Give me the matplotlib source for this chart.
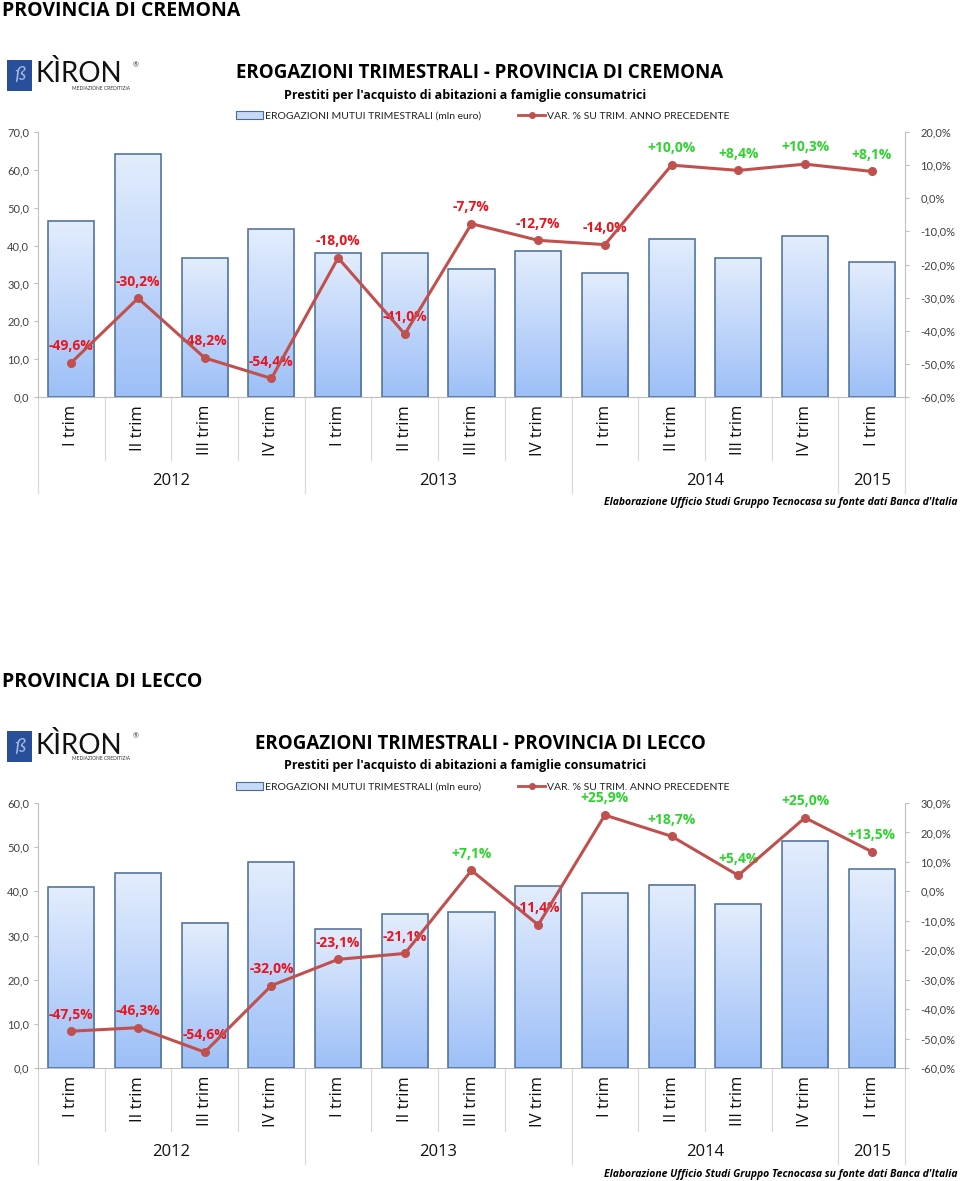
import numpy as np
import matplotlib.pyplot as plt
from matplotlib.patches import Rectangle
from matplotlib.lines import Line2D
from matplotlib.colors import LinearSegmentedColormap
import matplotlib.transforms as mtransforms

plt.rcParams['font.family'] = ['Lato', 'DejaVu Sans']

quarters = ["I trim", "II trim", "III trim", "IV trim",
            "I trim", "II trim", "III trim", "IV trim",
            "I trim", "II trim", "III trim", "IV trim",
            "I trim"]
years = ["2012", "2013", "2014", "2015"]
year_sizes = [4, 4, 4, 1]

cremona_bars = [46.5, 64.3, 36.7, 44.3, 38.1, 38.0, 33.9, 38.6, 32.7, 41.8, 36.7, 42.5, 35.6]
cremona_pct = [-49.6, -30.2, -48.2, -54.4, -18.0, -41.0, -7.7, -12.7, -14.0, 10.0, 8.4, 10.3, 8.1]

lecco_bars = [41.0, 44.2, 32.9, 46.7, 31.4, 34.9, 35.3, 41.2, 39.6, 41.5, 37.1, 51.5, 45.0]
lecco_pct = [-47.5, -46.3, -54.6, -32.0, -23.1, -21.1, 7.1, -11.4, 25.9, 18.7, 5.4, 25.0, 13.5]

LINE = "#c0504d"
EDGE = "#4a6d96"
NEG = "#e8141e"
POS = "#2ed42e"
GRID = "#bfbfbf"
TICK = "#404040"

grad = LinearSegmentedColormap.from_list("bar", ["#9dbff7", "#e3edfd"])


def fmt_it(v, pct=False):
    s = f"{v:.1f}".replace(".", ",")
    return s + ("%" if pct else "")


def panel(fig, header_y, ax_bottom, place, bars, pct, ymax, pmin, pmax):
    H = 1181.0
    fy = lambda px: 1 - px / H

    # page header
    fig.text(0.002, fy(header_y), "PROVINCIA DI " + place, fontsize=14, fontweight="bold",
             va="center", ha="left", family=["Open Sans", "DejaVu Sans"])

    # logo
    top = header_y + 48
    fig.patches.append(Rectangle((7 / 960, fy(top + 32)), 25 / 960, 31 / H,
                                 transform=fig.transFigure, facecolor="#2a4f9a",
                                 edgecolor="none"))
    fig.text(19.5 / 960, fy(top + 16), "ß", color="#9fb6e0", fontsize=14,
             ha="center", va="center", style="italic")
    fig.text(35 / 960, fy(top + 15), "KÌRON", fontsize=20, ha="left", va="center",
             color="#111111")
    fig.text(133 / 960, fy(top + 6), "®", fontsize=5, ha="left", va="center", color="#333333")
    fig.text(72 / 960, fy(top + 29), "MEDIAZIONE CREDITIZIA", fontsize=3.5,
             ha="left", va="center", color="#333333")

    # titles
    fig.text(0.5, fy(header_y + 62), "EROGAZIONI TRIMESTRALI - PROVINCIA DI " + place,
             fontsize=13.5, fontweight="bold", ha="center", va="center",
             family=["Open Sans", "DejaVu Sans"])
    fig.text(465 / 960, fy(header_y + 84),
             "Prestiti per l'acquisto di abitazioni a famiglie consumatrici",
             fontsize=9, fontweight="bold", ha="center", va="center",
             family=["Open Sans", "DejaVu Sans"])

    # axes
    ax = fig.add_axes([38 / 960, fy(ax_bottom), 867 / 960, 265 / H])
    ax2 = ax.twinx()
    x = np.arange(len(bars))
    w = 0.69
    rects = ax.bar(x, bars, width=w, facecolor="none", edgecolor=EDGE, linewidth=1.1, zorder=3)
    g = np.linspace(0, 1, 256).reshape(-1, 1)
    for r in rects:
        ax.imshow(g, cmap=grad, origin="lower", aspect="auto", zorder=2,
                  extent=[r.get_x(), r.get_x() + r.get_width(), 0, r.get_height()])
    ax.set_xlim(-0.5, len(bars) - 0.5)
    ax.set_ylim(0, ymax)
    ax.set_yticks(np.arange(0, ymax + 1, 10))
    ax.set_yticklabels([fmt_it(v) for v in np.arange(0, ymax + 1, 10)])

    ax2.plot(x, pct, color=LINE, linewidth=2.2, marker="o", markersize=5.5, zorder=4)
    ax2.set_ylim(pmin, pmax)
    ax2.set_yticks(np.arange(pmin, pmax + 1, 10))
    ax2.set_yticklabels([fmt_it(v, True) for v in np.arange(pmin, pmax + 1, 10)])
    for xi, v in zip(x, pct):
        lab = ("+" if v > 0 else "") + fmt_it(v, True)
        ax2.annotate(lab, (xi, v), xytext=(0, 12), textcoords="offset points",
                     ha="center", va="center", fontsize=10, fontweight="bold",
                     color=POS if v > 0 else NEG, family=["Open Sans", "DejaVu Sans"])

    for a in (ax, ax2):
        a.spines["top"].set_visible(False)
        a.tick_params(colors=TICK, labelsize=8, length=3, width=0.8)
        for s in a.spines.values():
            s.set_color(GRID)
    ax.spines["right"].set_visible(False)
    ax2.spines["left"].set_visible(False)
    ax2.spines["bottom"].set_visible(False)
    ax.tick_params(axis="y", colors=GRID, labelcolor=TICK)
    ax2.tick_params(axis="y", colors=GRID, labelcolor=TICK, pad=8)
    ax.set_xticks([])
    ax.set_facecolor("none")

    # category labels and separators
    trans = mtransforms.blended_transform_factory(ax.transData, ax.transAxes)
    ax_px = 265.0
    for xi, q in zip(x, quarters):
        ax.text(xi, -8 / ax_px, q, transform=trans, rotation=90, ha="center", va="top",
                fontsize=12, color="#111111", family=["Open Sans", "DejaVu Sans"])
    bounds = np.cumsum([0] + year_sizes) - 0.5
    for b in np.arange(-0.5, len(bars), 1.0):
        low = -96 / ax_px if np.any(np.isclose(bounds, b)) else -63 / ax_px
        ax.plot([b, b], [0, low], transform=trans, color="#d9d9d9", linewidth=0.9,
                clip_on=False)
    for i, yr in enumerate(years):
        c = (bounds[i] + bounds[i + 1]) / 2
        ax.text(c, -84 / ax_px, yr, transform=trans, ha="center", va="center",
                fontsize=12, color="#111111", family=["Open Sans", "DejaVu Sans"])

    fig.text(957 / 960, fy(ax_bottom + 106),
             "Elaborazione Ufficio Studi Gruppo Tecnocasa su fonte dati Banca d'Italia",
             ha="right", va="center", fontsize=7.5, fontweight="bold", style="italic",
             family=["Open Sans", "DejaVu Sans"])

    # legend
    h1 = Rectangle((0, 0), 1, 1, facecolor="#c6d9f7", edgecolor=EDGE, linewidth=0.8)
    h2 = Line2D([], [], color=LINE, marker="o", markersize=4, linewidth=2)
    fig.legend([h1, h2], ["EROGAZIONI MUTUI TRIMESTRALI (mln euro)",
                          "VAR. % SU TRIM. ANNO PRECEDENTE"],
               loc="center", bbox_to_anchor=(483 / 960, fy(header_y + 105)), ncol=2,
               frameon=False, fontsize=7.5, handlelength=2.6, handleheight=0.8,
               columnspacing=3.5, handletextpad=0.2, labelcolor="#222222")


fig = plt.figure(figsize=(9.6, 11.81), dpi=100)
panel(fig, 11, 397, "CREMONA", cremona_bars, cremona_pct, 70, -60, 20)
panel(fig, 682, 1068, "LECCO", lecco_bars, lecco_pct, 60, -60, 30)
fig.savefig("out.png", dpi=100)
